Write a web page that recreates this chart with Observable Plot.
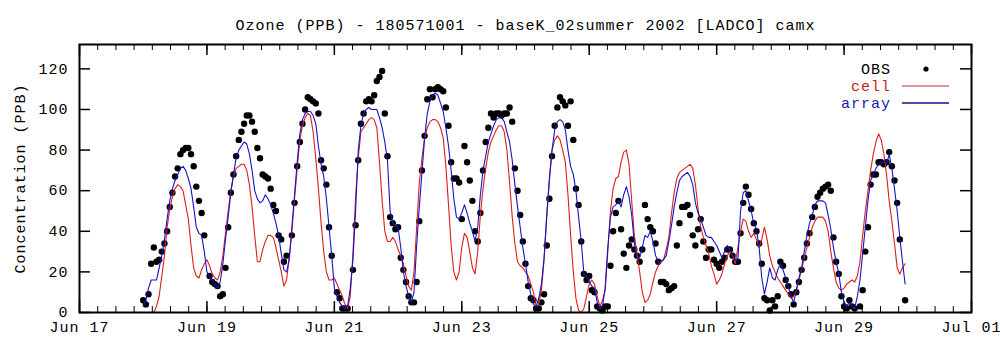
<!DOCTYPE html>
<html><head><meta charset="utf-8">
<script src="https://cdn.jsdelivr.net/npm/d3@7"></script>
<script src="https://cdn.jsdelivr.net/npm/@observablehq/plot@0.6"></script>
<style>
html,body{margin:0;padding:0;background:#fff;}
#chart svg{display:block;}
#chart svg text{letter-spacing:1px;}
</style></head><body><div id="chart"></div>
<script>
const title = "Ozone (PPB) - 180571001 - baseK_02summer 2002 [LADCO] camx";
const yLabel = "Concentration (PPB)";
const seriesNames = ["OBS", "cell", "array"];
const startDate = "2002-06-18T00:00:00Z";   // first hourly value
const xTickDates = ["2002-06-17","2002-06-19","2002-06-21","2002-06-23","2002-06-25","2002-06-27","2002-06-29","2002-07-01"];
const yTicks = [0, 20, 40, 60, 80, 100, 120];

// hourly observed ozone (null = missing)
const obs = [
  6,4,9,24,32,25,26,30,34,40,52,59,67,71,78,80,81,81,78,72,62,55,49,38,
  null,18,15,14,13,8,9,22,42,59,68,77,85,89,93,97,97,94,89,81,76,68,67,66,
  61,53,50,38,36,25,28,null,38,54,72,84,93,100,106,105,104,103,98,75,71,63,42,28,
  null,10,7,2,2,2,null,21,43,75,93,98,104,105,104,107,114,116,119,98,77,47,44,41,
  42,27,21,15,8,5,5,15,45,70,87,105,110,106,110,111,110,109,101,92,74,66,66,64,
  46,82,74,65,55,40,35,49,70,84,91,98,96,98,98,97,98,98,101,94,71,60,48,35,
  24,13,7,6,2,2,5,9,33,56,77,92,101,106,104,102,92,104,85,61,53,35,19,16,
  18,11,10,3,2,1,3,3,23,40,49,55,41,29,22,33,36,31,28,25,31,53,46,42,
  40,34,25,15,15,14,11,12,13,33,44,52,52,53,48,38,33,41,46,35,27,31,31,26,
  24,22,25,27,31,31,28,25,25,39,54,62,58,51,44,40,34,24,7,6,1,6,3,8,
  25,23,16,13,9,4,10,15,21,27,34,39,47,52,57,59,61,62,63,60,37,25,19,8,
  3,2,6,3,2,null,3,11,30,42,63,68,68,74,74,73,74,79,72,65,54,36,null,6
];
// hourly model, "cell"
const cell = [
  0,0,0,0,0,3,8,18,28,42,51,57,61,63,62,60,53,46,33,22,18,17,21,24,
  26,23,19,17,16,20,28,39,50,60,67,71,72,73,73,70,63,52,38,25,25,31,35,38,
  38,37,32,26,20,13,16,27,40,56,71,85,92,96,98,97,89,76,61,44,30,20,16,16,
  17,14,11,8,4,2,8,29,57,76,89,91,93,95,96,95,91,74,55,40,35,35,37,35,
  31,28,24,18,13,11,20,42,64,76,86,91,94,95,95,94,91,86,72,53,33,20,16,20,
  32,39,37,30,22,19,30,48,61,71,79,84,87,90,92,92,89,80,64,47,34,25,23,22,
  20,18,14,10,3,4,11,26,47,65,80,85,87,85,80,74,58,38,20,7,1,0,2,8,
  14,16,14,8,3,6,11,30,50,61,66,67,74,79,80,73,55,38,29,20,10,5,6,9,
  15,20,23,25,26,31,37,49,59,66,69,70,71,72,73,71,63,51,42,37,33,29,23,19,
  14,16,19,24,28,30,28,24,32,40,46,45,40,37,39,36,32,36,42,36,28,23,20,17,
  15,13,11,9,7,8,11,16,21,27,32,37,42,45,47,47,47,45,40,30,22,15,12,11,
  12,14,15,16,15,18,25,38,50,60,70,78,84,88,85,78,68,55,45,34,22,19,22,24
];
// hourly model, "array"
const array = [
  3,6,12,16,16,16,22,28,36,46,55,61,65,68,71,72,70,66,61,52,42,39,38,30,
  20,18,16,14,12,15,24,36,47,59,68,76,80,82,84,83,78,70,60,56,54,55,58,56,
  53,49,44,38,29,21,20,26,42,58,74,88,95,98,99,99,97,93,82,73,67,56,42,28,
  12,8,5,3,2,3,12,26,50,80,92,98,100,101,100,100,100,96,91,84,75,50,44,43,
  42,32,20,13,8,5,10,33,52,69,86,98,104,107,108,107,103,99,91,82,70,56,47,46,
  49,53,49,44,40,35,42,58,70,77,84,88,92,95,96,96,94,89,84,75,63,52,42,32,
  24,15,9,4,3,7,14,27,48,66,80,90,94,95,94,90,80,72,68,60,47,35,19,18,
  15,13,12,5,2,3,12,32,47,52,53,55,52,58,62,57,48,34,27,27,32,38,37,40,
  35,28,25,25,26,28,35,43,52,59,65,67,68,69,67,63,54,49,46,42,38,37,37,35,
  33,30,27,30,33,31,28,26,26,50,59,60,55,50,44,41,32,17,9,15,22,17,16,21,
  24,21,17,13,8,5,11,17,22,30,38,44,48,53,55,55,55,54,48,41,32,25,19,10,
  5,3,5,3,2,8,16,29,42,55,65,68,71,73,74,74,73,78,71,61,50,37,25,14
];

const W = 1000, H = 347;
const mL = 79, mR = 29, mT = 44, mB = 35;
const frameW = W - mL - mR, frameH = H - mT - mB;
const RED = "#e01c1c", BLUE = "#1414c8";

const t0 = new Date(startDate).getTime();
const rows = obs.map((o, i) => ({t: new Date(t0 + i * 3600e3), obs: o, cell: cell[i], array: array[i]}));
const majorTicks = xTickDates.map(s => new Date(s + "T00:00:00Z"));
const xDomain = [majorTicks[0], majorTicks[majorTicks.length - 1]];
// 7 minor intervals between labelled ticks (every 2 days)
const minorStep = (majorTicks[1] - majorTicks[0]) / 7;
const minorTicks = d3.range(0, (xDomain[1] - xDomain[0]) / minorStep + 0.5).map(k => new Date(+xDomain[0] + k * minorStep));

const chart = Plot.plot({
  width: W, height: H,
  marginLeft: mL, marginRight: mR, marginTop: mT, marginBottom: mB,
  style: {fontFamily: "'Liberation Mono', monospace", fontSize: "15px", background: "#fff", color: "#000", overflow: "visible"},
  x: {type: "utc", domain: xDomain},
  y: {domain: [0, 132]},
  marks: [
    Plot.axisX({ticks: majorTicks, tickSize: 0, tickPadding: 9, tickFormat: d3.utcFormat("%b %d"), label: null, fontSize: 15}),
    Plot.axisY({ticks: yTicks, tickSize: 0, tickPadding: 11, label: null, fontSize: 15}),
    Plot.tickX(minorTicks, {x: d => d, insetTop: frameH - 6, stroke: "#000"}),
    Plot.tickX(minorTicks, {x: d => d, insetBottom: frameH - 6, stroke: "#000"}),
    Plot.tickX(majorTicks, {x: d => d, insetTop: frameH - 11, stroke: "#000", strokeWidth: 1.5}),
    Plot.tickX(majorTicks, {x: d => d, insetBottom: frameH - 11, stroke: "#000", strokeWidth: 1.5}),
    Plot.tickY(yTicks, {y: d => d, insetRight: frameW - 11, stroke: "#000", strokeWidth: 1.5}),
    Plot.tickY(yTicks, {y: d => d, insetLeft: frameW - 11, stroke: "#000", strokeWidth: 1.5}),
    Plot.dot(rows, {filter: d => d.obs != null, x: "t", y: "obs", r: 3.2, fill: "#000", stroke: null}),
    Plot.line(rows, {x: "t", y: "cell", stroke: RED, strokeWidth: 1.1}),
    Plot.line(rows, {x: "t", y: "array", stroke: BLUE, strokeWidth: 1.1}),
    Plot.frame({stroke: "#000", strokeWidth: 2}),
    Plot.text([title], {frameAnchor: "top", dy: -25, fontSize: 15}),
    Plot.text([yLabel], {frameAnchor: "left", textAnchor: "middle", dx: -59, rotate: -90, fontSize: 15})
  ]
});
document.getElementById("chart").appendChild(chart);

// legend (top-right, inside the frame)
const svg = d3.select(chart);
const right = W - mR;
const lg = svg.append("g").attr("font-family", "'Liberation Mono', monospace").attr("font-size", 15);
const items = [
  {name: seriesNames[0], color: "#000", kind: "dot"},
  {name: seriesNames[1], color: RED, kind: "line", text: "#cc2020", lineColor: "#e07070"},
  {name: seriesNames[2], color: BLUE, kind: "line", text: "#1a1ab0", lineColor: "#101090"}
];
items.forEach((it, k) => {
  const y = mT + 25 + k * 17;
  lg.append("text").attr("x", right - 80).attr("y", y).attr("dy", "0.35em")
    .attr("text-anchor", "end").attr("fill", it.text || it.color).style("letter-spacing", "1px").text(it.name);
  if (it.kind === "dot") {
    lg.append("circle").attr("cx", right - 45).attr("cy", y).attr("r", 2.6).attr("fill", "#000");
  } else {
    lg.append("line").attr("x1", right - 69).attr("x2", right - 22).attr("y1", y).attr("y2", y)
      .attr("stroke", it.lineColor).attr("stroke-width", 1.3);
  }
});
</script>
</body></html>
